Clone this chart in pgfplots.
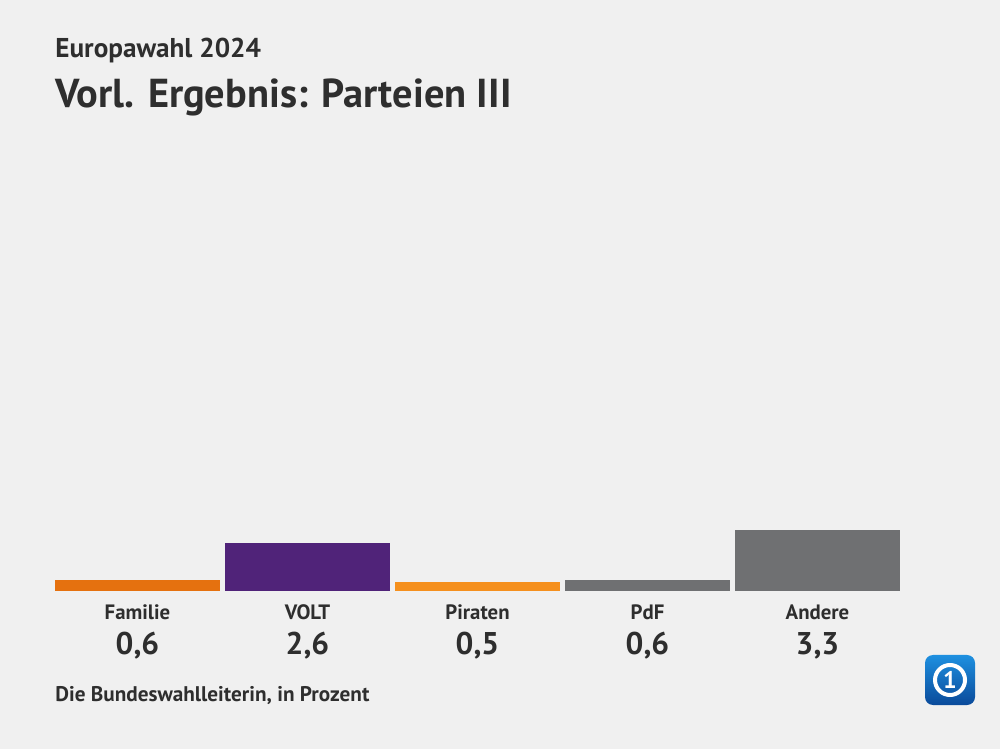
\documentclass[border=0pt]{standalone}
\usepackage{pgfplots}
\pgfplotsset{compat=1.18}
\usepackage{fontspec}
\setmainfont{PT Sans}
\definecolor{bg}{HTML}{F0F0F0}
\definecolor{txt}{HTML}{2E2E2E}
\definecolor{cFam}{HTML}{E5710F}
\definecolor{cVolt}{HTML}{502379}
\definecolor{cPir}{HTML}{F5901E}
\definecolor{cGray}{HTML}{6F7072}
\definecolor{logoA}{HTML}{0A4A9A}
\definecolor{logoB}{HTML}{1E90E0}
\begin{document}
\begin{tikzpicture}[x=0.5pt,y=0.5pt]
\fill[bg] (0,0) rectangle (1000,749);
\node[anchor=base west,inner sep=0,text=txt,font=\fontsize{13.6}{15}\selectfont\bfseries] at (55,691) {Europawahl 2024};
\node[anchor=base west,inner sep=0,text=txt,font=\fontsize{20.2}{25}\selectfont\bfseries] at (55,641) {Vorl. Ergebnis: Parteien III};
\node[anchor=base west,inner sep=0,text=txt,font=\fontsize{10.6}{12}\selectfont\bfseries] at (55,47) {Die Bundeswahlleiterin, in Prozent};
% logo
\shade[top color=logoB,bottom color=logoA,rounded corners=4pt] (925,44) rectangle (975,94);
\draw[white,line width=2pt] (950,69) circle (15);
\node[text=white,font=\fontsize{12}{12}\selectfont\bfseries] at (950,69) {1};
\begin{axis}[
  at={(26.25pt,79pt)}, anchor=south west,
  scale only axis, width=425pt, height=92.5pt,
  xmin=-0.5, xmax=4.5, ymin=0, ymax=10,
  ybar, bar width=0.97, bar shift=0pt,
  axis line style={draw=none}, tick style={draw=none},
  ytick=\empty,
  xtick={0,1,2,3,4},
  xticklabels={Familie,VOLT,Piraten,PdF,Andere},
  xticklabel style={anchor=base,yshift=-10pt,text=txt,font=\fontsize{10.4}{12}\selectfont\bfseries},
  extra x ticks={0,1,2,3,4},
  extra x tick labels={{0,6},{2,6},{0,5},{0,6},{3,3}},
  extra x tick style={xticklabel style={anchor=base,yshift=-17.5pt,text=txt,font=\fontsize{15.7}{18}\selectfont\bfseries}},
  clip=false,
]
\addplot[fill=cFam,draw=none] coordinates {(0,0.6)};
\addplot[fill=cVolt,draw=none] coordinates {(1,2.6)};
\addplot[fill=cPir,draw=none] coordinates {(2,0.5)};
\addplot[fill=cGray,draw=none] coordinates {(3,0.6)};
\addplot[fill=cGray,draw=none] coordinates {(4,3.3)};
\end{axis}
\end{tikzpicture}
\end{document}
